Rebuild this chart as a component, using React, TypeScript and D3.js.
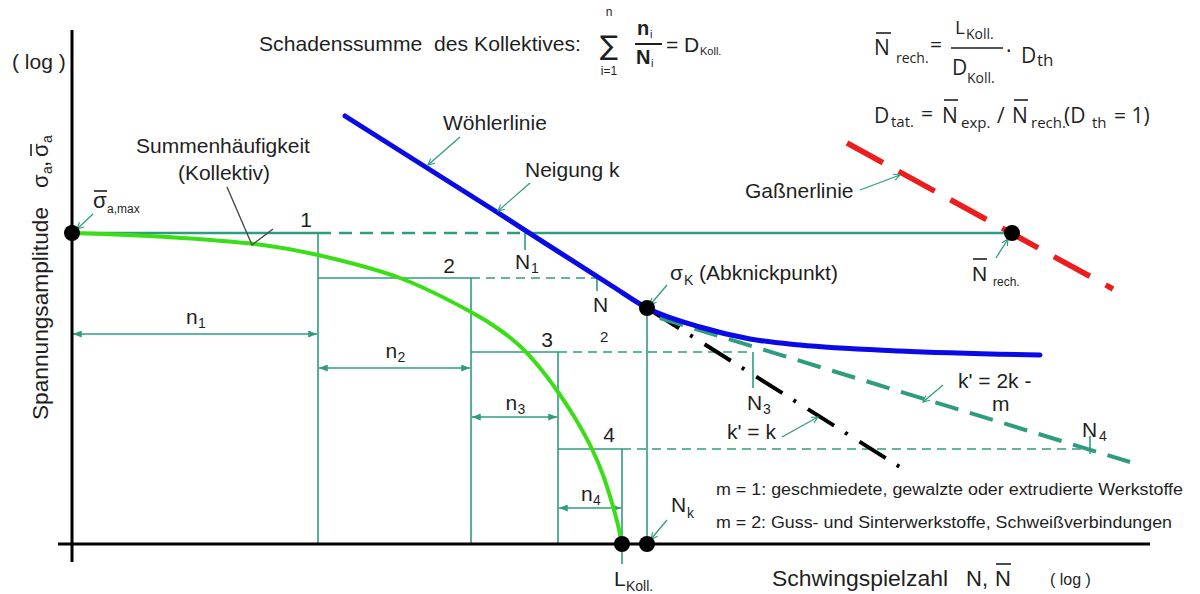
import React from "react";
import * as d3 from "d3";

type Pt = [number, number];

// Load collective: cumulative cycle count (log N) at the end of each block
const blockEnds = [2.46, 3.99, 4.86, 5.5];
// Stress amplitude (log σ) of each block
const stepLevels = [3.11, 2.66, 1.92, 0.95];
const stepLabels = ["1", "2", "3", "4"];
// Cycles to failure N_i read on the S-N curve at each block level
const failureN = [4.53, 5.25, 6.81, 10.18];
const failureLabels = ["1", "2", "3", "4"];
// Heights (log σ) of the n_i dimension arrows
const nArrowLevels = [2.1, 1.76, 1.27, 0.36];
const nLabels = ["1", "2", "3", "4"];

const sigmaMax = 3.11;
const lKoll = 5.5;
const kneePoint: Pt = [5.75, 2.36];
const nRech = 9.4;

// Cumulative frequency curve of the collective (log N, log σ)
const collectiveCurve: Pt[] = [
  [0, 3.11], [0.95, 3.07], [1.91, 2.99], [2.46, 2.89], [3.28, 2.66], [3.99, 2.32],
  [4.28, 2.14], [4.5, 1.96], [4.68, 1.76], [4.86, 1.52], [5.03, 1.26], [5.2, 0.95],
  [5.31, 0.69], [5.4, 0.41], [5.46, 0.19], [5.5, 0],
];
// S-N (Wöhler) curve with slope k and the flattening branch after the knee
const woehlerCurve: Pt[] = [
  [2.73, 4.28], [4.2, 3.35], [5.4, 2.58], [5.75, 2.36], [6.28, 2.17], [6.78, 2.05],
  [7.28, 1.99], [8.28, 1.93], [9.68, 1.89],
];
// Extensions below the knee
const kPrimeEqualK: Pt[] = [[5.75, 2.36], [8.31, 0.75]];
const kPrime2kM: Pt[] = [[5.88, 2.26], [10.58, 0.82]];
// Gaßner line
const gassnerLine: Pt[] = [[7.75, 4.01], [10.41, 2.55]];

// Label layout (pixel offsets from the anchored data point)
const stepLabelOffset: Pt[] = [[-12, -6], [-22, -5], [-11, -5], [-13, -7]];
const failureTick: Pt[] = [[0, 17], [0, 13], [0, 36], [-13, 5]];
const failureLabelOffset: [number, number, number, number][] = [
  [-10, 36, 6, 40],
  [-4, 34, 3, 64],
  [-6, 58, 10, 62],
  [-8, -12, 9, -8],
];
const nLabelDy = [-10, -10, -7, -7];

export default function App() {
  const x = d3.scaleLinear().domain([0, 10.8]).range([72, 1152]);
  const y = d3.scaleLinear().domain([0, 5.14]).range([544, 30]);
  const straight = d3.line<Pt>().x((d) => x(d[0])).y((d) => y(d[1]));
  const smooth = d3
    .line<Pt>()
    .x((d) => x(d[0]))
    .y((d) => y(d[1]))
    .curve(d3.curveMonotoneX);
  const arc = d3
    .line<Pt>()
    .x((d) => x(d[0]))
    .y((d) => y(d[1]))
    .curve(d3.curveCatmullRom.alpha(0.5));

  const font = "'Liberation Sans', Arial, Helvetica, sans-serif";
  const fontF = "'Open Sans', 'Noto Sans', sans-serif";
  const teal = "#2e9c7e";
  const ink = "#1f1f1f";
  const fs = 21;

  const starts = [0, ...blockEnds.slice(0, 3)];

  const leader = (x1: number, y1: number, x2: number, y2: number, key: string) => (
    <line key={key} x1={x1} y1={y1} x2={x2} y2={y2} stroke={teal} strokeWidth={1.3} markerEnd="url(#chev)" />
  );

  const overline = (x1: number, x2: number, yy: number, key: string) => (
    <line key={key} x1={x1} x2={x2} y1={yy} y2={yy} stroke={ink} strokeWidth={1.6} />
  );

  return (
    <svg
      width={1200}
      height={594}
      viewBox="0 0 1200 594"
      style={{ position: "absolute", left: 0, top: 0, background: "#fff" }}
    >
      <defs>
        <marker id="dimArrow" viewBox="0 0 10 8" refX={10} refY={4} markerWidth={9} markerHeight={7}
          markerUnits="userSpaceOnUse" orient="auto-start-reverse">
          <path d="M0,0 L10,4 L0,8 z" fill={teal} />
        </marker>
        <marker id="chev" viewBox="0 0 10 10" refX={9} refY={5} markerWidth={8} markerHeight={8}
          markerUnits="userSpaceOnUse" orient="auto">
          <path d="M1,1 L9,5 L1,9" fill="none" stroke={teal} strokeWidth={1.4} />
        </marker>
      </defs>

      {/* block levels: solid over the block, dashed out to the S-N curve */}
      {stepLevels.map((lvl, i) => (
        <g key={"lvl" + i} fill="none" stroke={teal}>
          <path d={straight([[starts[i], lvl], [blockEnds[i], lvl]]) || ""} strokeWidth={i === 0 ? 2.5 : 1.6} />
          <path d={straight([[blockEnds[i], lvl], [failureN[i], lvl]]) || ""} strokeWidth={i === 0 ? 2.5 : 1.6}
            strokeDasharray={i === 0 ? "13 8" : "9 6"} />
          <path d={straight([[blockEnds[i], lvl], [blockEnds[i], 0]]) || ""} strokeWidth={1.6} />
          <line x1={x(failureN[i])} x2={x(failureN[i])} y1={y(lvl) + failureTick[i][0]} y2={y(lvl) + failureTick[i][1]}
            strokeWidth={1.6} />
        </g>
      ))}
      <path d={straight([[failureN[0], sigmaMax], [nRech, sigmaMax]]) || ""} fill="none" stroke={teal} strokeWidth={2.5} />
      <path d={straight([kneePoint, [kneePoint[0], 0]]) || ""} fill="none" stroke={teal} strokeWidth={1.6} />
      <line x1={x(lKoll)} x2={x(lKoll)} y1={y(0)} y2={y(0) + 20} stroke={teal} strokeWidth={1.6} />

      {/* n_i dimension arrows */}
      {nArrowLevels.map((lv, i) => (
        <line key={"dim" + i} x1={x(starts[i]) + 1} x2={x(blockEnds[i]) - 1} y1={y(lv)} y2={y(lv)}
          stroke={teal} strokeWidth={1.6} markerStart="url(#dimArrow)" markerEnd="url(#dimArrow)" />
      ))}

      {/* axes */}
      <line x1={x(0)} x2={x(0)} y1={y(5.14)} y2={y(-0.18)} stroke="#000" strokeWidth={3} />
      <line x1={x(-0.14)} x2={x(10.78)} y1={y(0)} y2={y(0)} stroke="#000" strokeWidth={3} />

      {/* curves */}
      <path d={arc(collectiveCurve) || ""} fill="none" stroke="#3ade16" strokeWidth={4} />
      <path d={straight(kPrimeEqualK) || ""} fill="none" stroke="#000" strokeWidth={4}
        strokeDasharray="31 13 3 14" strokeDashoffset={-7} />
      <path d={straight(kPrime2kM) || ""} fill="none" stroke={teal} strokeWidth={4} strokeDasharray="24 12" />
      <path d={smooth(woehlerCurve) || ""} fill="none" stroke="#0a0ae6" strokeWidth={5} strokeLinecap="round" />
      <path d={straight(gassnerLine) || ""} fill="none" stroke="#ee1d1d" strokeWidth={5.5} strokeDasharray="41 18" />

      {/* leader lines */}
      {leader(460, 137, 428, 165, "l-w")}
      {leader(530, 183, 498, 211, "l-k")}
      {leader(667, 285, x(kneePoint[0]) + 3, y(kneePoint[1]) - 3, "l-sk")}
      {leader(860, 190, 900, 175, "l-g")}
      {leader(996, 258, x(nRech) - 4, y(sigmaMax) + 6, "l-nr")}
      {leader(943, 385, 923, 402, "l-2k")}
      {leader(782, 437, 818, 417, "l-kk")}
      {leader(93, 214, x(0) + 5, y(sigmaMax) - 4, "l-sm")}
      {leader(667, 520, x(kneePoint[0]) + 4, y(0) - 5, "l-nk")}
      <polyline points={`227,187 ${x(1.8)},${y(2.99)} 273,229`} fill="none" stroke="#4a4a4a" strokeWidth={1.4} />

      {/* points */}
      {[[0, sigmaMax], [nRech, sigmaMax], kneePoint, [lKoll, 0], [kneePoint[0], 0]].map((p, i) => (
        <circle key={"pt" + i} cx={x(p[0])} cy={y(p[1])} r={8} fill="#000" />
      ))}

      <g fontFamily={font} fill={ink} fontSize={fs}>
        {/* step numbers */}
        {stepLevels.map((lvl, i) => (
          <text key={"sl" + i} x={x(blockEnds[i]) + stepLabelOffset[i][0]} y={y(lvl) + stepLabelOffset[i][1]}
            textAnchor="middle">{stepLabels[i]}</text>
        ))}
        {/* N_i labels */}
        {failureN.map((n, i) => {
          const o = failureLabelOffset[i];
          const bx = x(n), by = y(stepLevels[i]);
          return (
            <g key={"fl" + i}>
              <text x={bx + o[0]} y={by + o[1]}>N</text>
              <text x={bx + o[2]} y={by + o[3]} fontSize={i === 1 ? 15 : 14}>{failureLabels[i]}</text>
            </g>
          );
        })}
        {/* n_i labels */}
        {nArrowLevels.map((lv, i) => {
          const cx = (x(starts[i]) + x(blockEnds[i])) / 2;
          return (
            <g key={"nl" + i}>
              <text x={cx - 9} y={y(lv) + nLabelDy[i]}>n</text>
              <text x={cx + 3} y={y(lv) + nLabelDy[i] + 4} fontSize={14}>{nLabels[i]}</text>
            </g>
          );
        })}

        <text x={443} y={130}>Wöhlerlinie</text>
        <text x={525} y={177}>Neigung k</text>
        <text x={223} y={153} textAnchor="middle">Summenhäufigkeit</text>
        <text x={224} y={180} textAnchor="middle">(Kollektiv)</text>

        <text x={93} y={208} fontSize={22}>σ</text>
        {overline(94, 107, 191, "ol-smax")}
        <text x={107} y={213} fontSize={12}>a,max</text>

        <text x={670} y={280}>σ</text>
        <text x={684} y={285} fontSize={14}>K</text>
        <text x={699} y={280}>(Abknickpunkt)</text>

        <text x={745} y={198}>Gaßnerlinie</text>

        <text x={972} y={281}>N</text>
        {overline(973, 987, 259, "ol-nr")}
        <text x={993} y={286} fontSize={12}>rech.</text>

        <text x={958} y={388}>k' = 2k -</text>
        <text x={992} y={411}>m</text>
        <text x={727} y={439}>k' = k</text>

        <text x={671} y={512}>N</text>
        <text x={687} y={518} fontSize={14}>k</text>
        <text x={614} y={586}>L</text>
        <text x={626} y={591} fontSize={14}>Koll.</text>

        <text x={716} y={495} fontSize={17} textLength={467} lengthAdjust="spacingAndGlyphs">
          m = 1: geschmiedete, gewalzte oder extrudierte Werkstoffe
        </text>
        <text x={716} y={528} fontSize={17} textLength={456} lengthAdjust="spacingAndGlyphs">
          m = 2: Guss- und Sinterwerkstoffe, Schweißverbindungen
        </text>

        <text x={772} y={586} fontSize={22} textLength={176} lengthAdjust="spacingAndGlyphs">Schwingspielzahl</text>
        <text x={966} y={586} fontSize={22}>N,</text>
        <text x={995} y={586} fontSize={22}>N</text>
        {overline(996, 1011, 564, "ol-nx")}
        <text x={1050} y={585} fontSize={16} style={{ whiteSpace: "pre" }}>( log )</text>

        <text x={12} y={69} style={{ whiteSpace: "pre" }}>( log )</text>
        <g transform="translate(48,420) rotate(-90)" fontSize={22}>
          <text x={0} y={0} textLength={213} lengthAdjust="spacingAndGlyphs">Spannungsamplitude</text>
          <text x={232} y={0}>σ</text>
          <text x={246} y={4} fontSize={14}>a</text>
          <text x={253} y={0}>,</text>
          <text x={263} y={0}>σ</text>
          {overline(264, 276, -17, "ol-y")}
          <text x={277} y={4} fontSize={14}>a</text>
        </g>

        {/* damage sum of the collective */}
        <text x={259} y={51} textLength={322} lengthAdjust="spacingAndGlyphs" style={{ whiteSpace: "pre" }}>
          Schadenssumme  des Kollektives:
        </text>
        <text x={609} y={55} fontSize={27} textAnchor="middle" fontFamily="'DejaVu Sans', sans-serif">∑</text>
        <text x={609} y={16} fontSize={12} textAnchor="middle">n</text>
        <text x={609} y={75} fontSize={12} textAnchor="middle">i=1</text>
        <text x={637} y={35} fontSize={20} fontWeight="bold">n</text>
        <text x={650} y={38} fontSize={11}>i</text>
        <line x1={635} x2={662} y1={44} y2={44} stroke={ink} strokeWidth={2} />
        <text x={636} y={64} fontSize={20} fontWeight="bold">N</text>
        <text x={651} y={67} fontSize={11}>i</text>
        <text x={666} y={52}>= D</text>
        <text x={700} y={55} fontSize={11}>Koll.</text>
      </g>

      {/* calculated life and actual damage sum */}
      <g fontFamily={fontF} fill={ink} fontSize={21}>
        <text x={874} y={55}>N</text>
        {overline(876, 891, 33, "ol-f1")}
        <text x={896} y={63} fontSize={14}>rech.</text>
        <text x={930} y={52}>=</text>
        <text x={955} y={34} fontSize={19}>L</text>
        <text x={966} y={39} fontSize={14}>Koll.</text>
        <line x1={951} x2={1003} y1={48} y2={48} stroke={ink} strokeWidth={1.5} />
        <text x={952} y={75}>D</text>
        <text x={967} y={83} fontSize={14}>Koll.</text>
        <text x={1006} y={58}>·</text>
        <text x={1021} y={63}>D</text>
        <text x={1037} y={66} fontSize={17}>th</text>

        <text x={874} y={123}>D</text>
        <text x={891} y={127} fontSize={15}>tat.</text>
        <text x={921} y={121}>=</text>
        <text x={942} y={123}>N</text>
        {overline(944, 958, 100, "ol-f2")}
        <text x={961} y={128} fontSize={15}>exp.</text>
        <text x={997} y={123}>/</text>
        <text x={1012} y={123}>N</text>
        {overline(1014, 1028, 100, "ol-f3")}
        <text x={1031} y={128} fontSize={15}>rech.</text>
        <text x={1064} y={123}>(D</text>
        <text x={1092} y={128} fontSize={15}>th</text>
        <text x={1114} y={123} style={{ whiteSpace: "pre" }}>= 1)</text>
      </g>
    </svg>
  );
}
